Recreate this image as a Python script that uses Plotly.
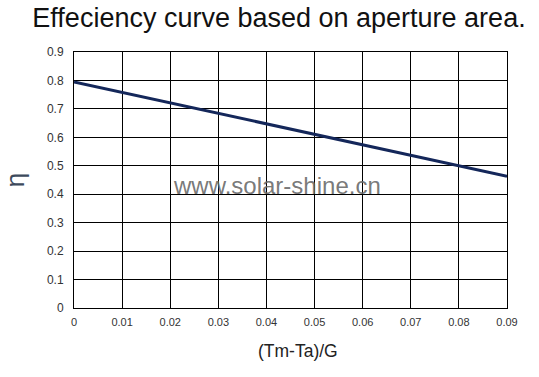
import plotly.graph_objects as go

x_vals = [0, 0.01, 0.02, 0.03, 0.04, 0.05, 0.06, 0.07, 0.08, 0.09]
eta_vals = [0.795, 0.758, 0.721, 0.684, 0.647, 0.610, 0.573, 0.536, 0.500, 0.463]
x_ticks = [0, 0.01, 0.02, 0.03, 0.04, 0.05, 0.06, 0.07, 0.08, 0.09]
x_tick_labels = ["0", "0.01", "0.02", "0.03", "0.04", "0.05", "0.06", "0.07", "0.08", "0.09"]
y_ticks = [0, 0.1, 0.2, 0.3, 0.4, 0.5, 0.6, 0.7, 0.8, 0.9]
y_tick_labels = ["0", "0.1", "0.2", "0.3", "0.4", "0.5", "0.6", "0.7", "0.8", "0.9"]

W, H = 539, 377
L, R, T, B = 74, 32, 52, 69
PW, PH = W - L - R, H - T - B

fig = go.Figure()
fig.add_trace(go.Scatter(x=x_vals, y=eta_vals, mode="lines",
                         line=dict(color="#14275a", width=3), showlegend=False))

font = "Liberation Sans, Arial, sans-serif"
fig.update_layout(
    width=W, height=H,
    margin=dict(l=L, r=R, t=T, b=B, autoexpand=False),
    paper_bgcolor="white", plot_bgcolor="white",
    font=dict(family=font, color="#222"),
    title=dict(text="Effeciency curve based on aperture area.", x=279 / W, xanchor="center",
               y=1 - 18 / H, yanchor="middle", font=dict(size=27, color="#111", family=font)),
    xaxis=dict(range=[0, 0.09], tickvals=x_ticks, ticktext=x_tick_labels,
               showgrid=True, gridcolor="black", gridwidth=1,
               showline=True, linecolor="black", mirror=True, zeroline=False,
               ticks="", tickfont=dict(size=11, color="#333"), automargin=False,
               ticklabelstandoff=4),
    yaxis=dict(range=[0, 0.9], tickvals=y_ticks, ticktext=y_tick_labels,
               showgrid=True, gridcolor="black", gridwidth=1,
               showline=True, linecolor="black", mirror=True, zeroline=False,
               ticks="", tickfont=dict(size=12, color="#333"), automargin=False,
               ticklabelstandoff=7,
               title=dict(text="η", font=dict(size=26, color="#3d4a5c"), standoff=22)),
)
fig.add_annotation(text="(Tm-Ta)/G", xref="paper", yref="paper",
                   x=(298 - L) / PW, y=(T + PH - 351) / PH, showarrow=False,
                   xanchor="center", yanchor="middle",
                   font=dict(size=17.5, color="#222", family=font))
fig.add_annotation(text="www.solar-shine.cn", xref="paper", yref="paper",
                   x=0.469, y=0.477, showarrow=False,
                   font=dict(size=24, color="rgba(105,105,105,0.9)", family=font))
fig.write_html("out.html", config={"displayModeBar": False},
               post_script="document.body.style.margin='0';")
